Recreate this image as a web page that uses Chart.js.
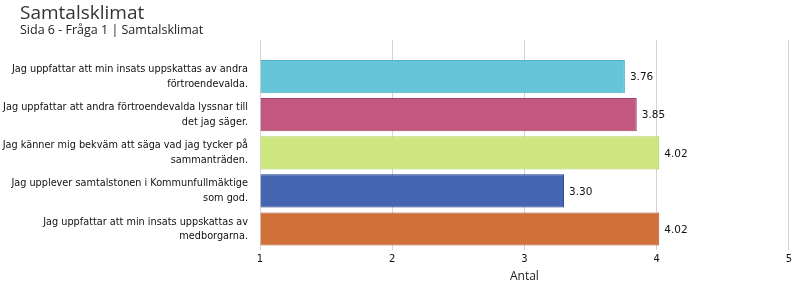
<!DOCTYPE html>
<html>
<head>
<meta charset="utf-8">
<script src="https://cdn.jsdelivr.net/npm/chart.js@4"></script>
<style>
  body { margin: 0; background: #fff; }
  #wrap { position: relative; width: 795px; height: 284px; }
  #title { position: absolute; left: 20px; top: -1px; font: 19px "Open Sans", sans-serif; color: #333; }
  #subtitle { position: absolute; left: 20px; top: 21px; font: 12.5px "Open Sans", sans-serif; color: #222; }
  canvas { position: absolute; left: 0; top: 0; }
</style>
</head>
<body>
<div id="wrap">
  <canvas id="chart" width="795" height="284"></canvas>
  <div id="title">Samtalsklimat</div>
  <div id="subtitle">Sida 6 - Fråga 1 | Samtalsklimat</div>
</div>
<script>
// frågor (två rader per etikett)
const questions = [
    ['Jag uppfattar att min insats uppskattas av andra', 'förtroendevalda.'],
    ['Jag uppfattar att andra förtroendevalda lyssnar till', 'det jag säger.'],
    ['Jag känner mig bekväm att säga vad jag tycker på', 'sammanträden.'],
    ['Jag upplever samtalstonen i Kommunfullmäktige', 'som god.'],
    ['Jag uppfattar att min insats uppskattas av', 'medborgarna.']
];
const averages = [3.76, 3.85, 4.02, 3.30, 4.02];
const xTicks = [1, 2, 3, 4, 5];
const fillColors = ['#67c5da', '#c2587f', '#cde67f', '#4567b1', '#d17038'];
const borderColors = ['#4fb0c8', '#a4436a', '#abcd5c', '#1f3b8c', '#ad552b'];

// värdeetiketter efter staplarna
const valueLabels = {
    id: 'valueLabels',
    afterDatasetsDraw(chart) {
        const ctx = chart.ctx;
        const meta = chart.getDatasetMeta(0);
        ctx.save();
        ctx.font = '10.5px "DejaVu Sans", sans-serif';
        ctx.fillStyle = '#111';
        ctx.textAlign = 'left';
        ctx.textBaseline = 'middle';
        meta.data.forEach((bar, i) => {
            ctx.fillText(averages[i].toFixed(2), bar.x + 5, bar.y + 1);
        });
        ctx.restore();
    }
};

const ctx = document.getElementById('chart').getContext('2d');
new Chart(ctx, {
    type: 'bar',
    data: {
        datasets: [{
            data: averages.map((v, i) => ({ x: v, y: i })),
            backgroundColor: fillColors,
            borderColor: borderColors,
            borderWidth: 1,
            base: 1,
            categoryPercentage: 1,
            barPercentage: 0.87
        }]
    },
    options: {
        indexAxis: 'y',
        responsive: false,
        animation: false,
        layout: { padding: { top: 40, right: 6, left: 0, bottom: 0 } },
        plugins: {
            legend: { display: false },
            tooltip: { enabled: false }
        },
        scales: {
            x: {
                type: 'linear',
                min: xTicks[0],
                max: xTicks[xTicks.length - 1],
                afterBuildTicks: scale => { scale.ticks = xTicks.map(v => ({ value: v })); },
                grid: { color: '#d4d4d4', drawTicks: false },
                border: { display: false },
                ticks: {
                    padding: 3,
                    color: '#111',
                    font: { family: 'DejaVu Sans', size: 10 }
                },
                title: {
                    display: true,
                    text: 'Antal',
                    color: '#222',
                    padding: { top: 2, bottom: 0 },
                    font: { family: 'Open Sans', size: 12 }
                },
                afterFit: scale => { scale.height = 34; }
            },
            y: {
                type: 'linear',
                reverse: true,
                offset: false,
                bounds: 'data',
                min: -0.96,
                max: 4.55,
                afterBuildTicks: scale => { scale.ticks = questions.map((q, i) => ({ value: i })); },
                grid: { display: false },
                border: { display: false },
                ticks: {
                    padding: 4,
                    color: '#111',
                    font: { family: 'DejaVu Sans Condensed', size: 10.8, lineHeight: 1.35 },
                    callback: value => questions[value]
                },
                afterFit: scale => { scale.width = 260; }
            }
        }
    },
    plugins: [valueLabels]
});
</script>
</body>
</html>
